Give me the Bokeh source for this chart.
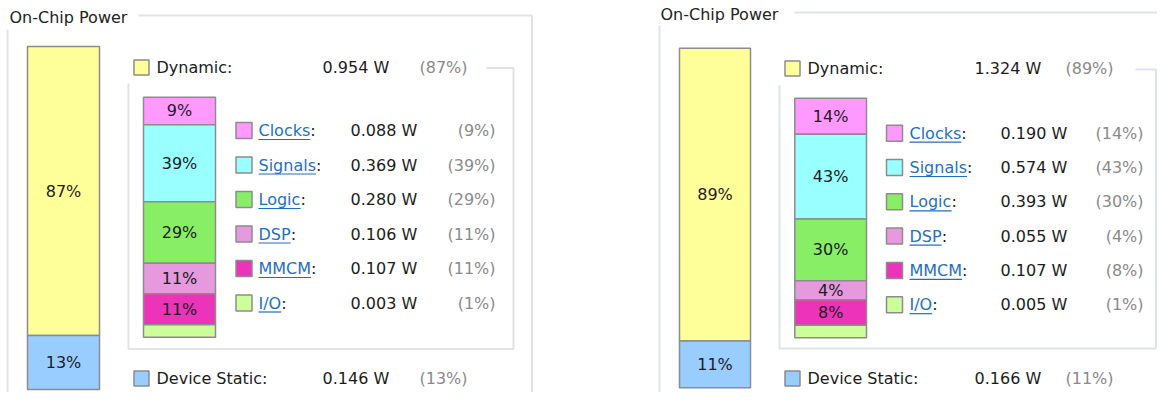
import numpy as np
from bokeh.plotting import figure
from bokeh.models import Range1d, ColumnDataSource
from bokeh.core.properties import value
from bokeh.embed import file_html
from bokeh.resources import INLINE

# ---------------- data ----------------
TITLE = "On-Chip Power"
total_labels = ["Dynamic", "Device Static"]
dyn_labels = ["Clocks", "Signals", "Logic", "DSP", "MMCM", "I/O"]

a_total_w = [0.954, 0.146]
a_total_pct = [87, 13]
a_dyn_w = [0.088, 0.369, 0.280, 0.106, 0.107, 0.003]
a_dyn_pct = [9, 39, 29, 11, 11, 1]

b_total_w = [1.324, 0.166]
b_total_pct = [89, 11]
b_dyn_w = [0.190, 0.574, 0.393, 0.055, 0.107, 0.005]
b_dyn_pct = [14, 43, 30, 4, 8, 1]

total_colors = ["#ffff99", "#99ccff"]
dyn_colors = ["#ff99ff", "#99ffff", "#88ee66", "#e699dd", "#ee33bb", "#ccff99"]

# ---------------- style ----------------
FONT = value("DejaVu Sans")
FS = value("16px")
TXT = "#1c1c1c"
GRAY = "#8a8a8a"
LINK = "#1f6fc2"
BORDER = "#8c8c8c"

W, H = 1157, 392

DV = {"C": 698, "l": 278, "o": 612, "c": 550, "k": 579, "s": 521, "S": 635,
      "i": 278, "g": 635, "n": 634, "a": 613, "L": 557, "D": 770, "P": 603,
      "M": 863, "I": 295, "/": 337, "O": 787}


def text_w(s, px=16):
    return sum(DV.get(ch, 600) for ch in s) / 1000 * px


p = figure(width=W, height=H, x_range=Range1d(0, W), y_range=Range1d(H, 0),
           output_backend="svg", toolbar_location=None, min_border=0,
           x_axis_type=None, y_axis_type=None)
p.grid.visible = False
p.outline_line_color = None
p.background_fill_color = "white"
p.border_fill_color = "white"


def add_range(name, top_px, bottom_px, units):
    s = units / (bottom_px - top_px)
    p.extra_y_ranges[name] = Range1d(start=(bottom_px - H) * s, end=(bottom_px - 0) * s)


def stacked_bar(name, x0, x1, top_px, bottom_px, weights, pcts, colors, pad, show_min):
    w = np.array(weights, float)
    share = w / w.sum() * 100 + pad
    U = share.sum()
    tops = U - np.concatenate([[0], np.cumsum(share)[:-1]])
    bots = tops - share
    add_range(name, top_px, bottom_px, U)
    src = ColumnDataSource(dict(top=tops, bottom=bots, color=colors,
                                mid=(tops + bots) / 2,
                                lab=[f"{v}%" if v >= show_min else "" for v in pcts]))
    p.quad(left=x0, right=x1, top="top", bottom="bottom", fill_color="color",
           line_color=BORDER, line_width=1.5, source=src, y_range_name=name)
    p.text(x=(x0 + x1) / 2, y="mid", text="lab", source=src, y_range_name=name,
           text_font=FONT, text_font_size=FS, text_color=TXT,
           text_align="center", text_baseline="middle")


def panel(key, L, total_w, total_pct, dyn_w, dyn_pct):
    # group frames
    p.multi_line(xs=L["frame_xs"], ys=L["frame_ys"], line_color=L["frame_color"], line_width=2)
    p.text(x=[L["title_x"]], y=[L["title_y"]], text=[TITLE], text_font=FONT, text_font_size=FS,
           text_color="#222222", text_baseline="middle")
    # big bar
    stacked_bar(key + "big", L["big_x0"], L["big_x1"], L["big_top"], L["big_bot"],
                total_w, total_pct, total_colors, 3.6, 2)
    # small bar
    stacked_bar(key + "small", L["sm_x0"], L["sm_x1"], L["sm_top"], L["sm_bot"],
                dyn_w, dyn_pct, dyn_colors, 7.14, 2)
    # total legend rows
    ty = [L["dyn_y"], L["stat_y"]]
    p.rect(x=L["tsq_x"], y=ty, width=15, height=15, fill_color=total_colors,
           line_color=BORDER, line_width=1.5)
    p.text(x=L["tlab_x"], y=ty, text=[t + ":" for t in total_labels], text_font=FONT,
           text_font_size=FS, text_color=TXT, text_baseline="middle")
    p.text(x=L["tval_x"], y=ty, text=[f"{v:.3f} W" for v in total_w], text_font=FONT,
           text_font_size=FS, text_color=TXT, text_baseline="middle")
    p.text(x=L["tpct_x"], y=ty, text=[f"({v}%)" for v in total_pct], text_font=FONT,
           text_font_size=FS, text_color=GRAY, text_baseline="middle", text_align="right")
    # dynamic legend rows
    ry = [L["row_y0"] + i * L["row_step"] for i in range(len(dyn_labels))]
    p.rect(x=L["dsq_x"], y=ry, width=16, height=16, fill_color=dyn_colors,
           line_color=BORDER, line_width=1.5)
    p.text(x=L["link_x"], y=ry, text=dyn_labels, text_font=FONT, text_font_size=FS,
           text_color=LINK, text_baseline="middle")
    widths = [text_w(s) for s in dyn_labels]
    p.text(x=[L["link_x"] + w for w in widths], y=ry, text=[":"] * len(ry), text_font=FONT,
           text_font_size=FS, text_color=TXT, text_baseline="middle")
    p.segment(x0=[L["link_x"]] * len(ry), x1=[L["link_x"] + w for w in widths],
              y0=[y + 9 for y in ry], y1=[y + 9 for y in ry], line_color=LINK, line_width=1.2)
    p.text(x=L["dval_x"], y=ry, text=[f"{v:.3f} W" for v in dyn_w], text_font=FONT,
           text_font_size=FS, text_color=TXT, text_baseline="middle")
    p.text(x=L["dpct_x"], y=ry, text=[f"({v}%)" for v in dyn_pct], text_font=FONT,
           text_font_size=FS, text_color=GRAY, text_baseline="middle", text_align="right")


LA = dict(
    frame_xs=[[7, 7], [138, 531.5, 531.5], [486, 513, 513, 128, 128]],
    frame_ys=[[29, 408], [15, 15, 408], [67.5, 67.5, 348.5, 348.5, 83]],
    frame_color="#e3e3e3", title_x=9, title_y=16.5,
    big_x0=27, big_x1=99, big_top=46, big_bot=389,
    sm_x0=143, sm_x1=215, sm_top=96.7, sm_bot=336.7,
    dyn_y=67, stat_y=378, tsq_x=141, tlab_x=156, tval_x=322, tpct_x=467,
    row_y0=130, row_step=34.5, dsq_x=243.5, link_x=258, dval_x=350, dpct_x=495,
)
LB = dict(
    frame_xs=[[659, 659], [794, 1173], [1135, 1155.5, 1155.5, 779, 779]],
    frame_ys=[[25, 408], [12, 12], [69, 69, 348, 348, 85]],
    frame_color="#dde4eb", title_x=660, title_y=13.5,
    big_x0=679, big_x1=750, big_top=47.7, big_bot=387.3,
    sm_x0=794.3, sm_x1=866, sm_top=97.7, sm_bot=337.3,
    dyn_y=68, stat_y=378, tsq_x=792, tlab_x=807, tval_x=974, tpct_x=1113,
    row_y0=132.7, row_step=34.3, dsq_x=894, link_x=909, dval_x=1000, dpct_x=1143,
)

panel("a", LA, a_total_w, a_total_pct, a_dyn_w, a_dyn_pct)
panel("b", LB, b_total_w, b_total_pct, b_dyn_w, b_dyn_pct)

open("out.html", "w").write(file_html(p, INLINE))
